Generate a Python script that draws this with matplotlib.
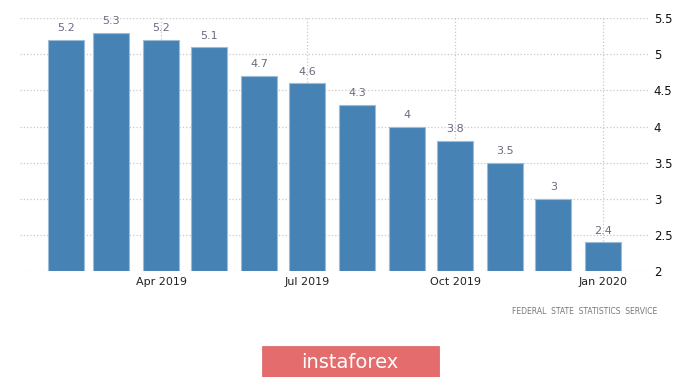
import matplotlib.pyplot as plt
import numpy as np
from matplotlib.patches import Rectangle

months = ["2019-02", "2019-03", "2019-04", "2019-05", "2019-06", "2019-07",
          "2019-08", "2019-09", "2019-10", "2019-11", "2019-12", "2020-01"]
values = [5.2, 5.3, 5.2, 5.1, 4.7, 4.6, 4.3, 4.0, 3.8, 3.5, 3.0, 2.4]
labels = ["5.2", "5.3", "5.2", "5.1", "4.7", "4.6", "4.3", "4", "3.8", "3.5", "3", "2.4"]
tick_months = ["2019-04", "2019-07", "2019-10", "2020-01"]
tick_labels = ["Apr 2019", "Jul 2019", "Oct 2019", "Jan 2020"]
y_ticks = [2, 2.5, 3, 3.5, 4, 4.5, 5, 5.5]

# position in days since first month
start = np.datetime64(months[0] + "-01")
x = [(np.datetime64(m + "-01") - start).astype(int) for m in months]
xt = [(np.datetime64(m + "-01") - start).astype(int) for m in tick_months]

fig = plt.figure(figsize=(7, 3.77), dpi=100)
ax = fig.add_axes([0.029, 0.281, 0.897, 0.671])

ax.bar(x, [v - 2 for v in values], bottom=2, width=22.4, color="#4682b4",
       edgecolor="#9dbcd8", linewidth=0.8, zorder=3)
for xi, v, t in zip(x, values, labels):
    ax.text(xi, v + 0.09, t, ha="center", va="bottom", fontsize=8,
            color="#6b6b80", zorder=4)

ax.set_xlim(-28.6, 362)
ax.set_ylim(2, 5.5)
ax.set_xticks(xt)
ax.set_xticklabels(tick_labels, fontsize=8, color="#222222")
ax.set_yticks(y_ticks)
ax.set_yticklabels([("%g" % v) for v in y_ticks], fontsize=8.5, color="#111111")
ax.yaxis.tick_right()
ax.tick_params(axis="both", length=0, pad=4)
ax.grid(True, color="#c8c8c8", linestyle=":", linewidth=0.9, zorder=0)
for s in ax.spines.values():
    s.set_visible(False)

fig.text(0.939, 0.175, "FEDERAL  STATE  STATISTICS  SERVICE", ha="right", va="center",
         fontsize=5.5, color="#777777")

fig.patches.append(Rectangle((262 / 700, 0.0), 177 / 700, 31 / 377,
                             transform=fig.transFigure, facecolor="#e46c6c",
                             edgecolor="#d96060", linewidth=0.5))
fig.text(350 / 700, 15 / 377, "instaforex", ha="center", va="center",
         fontsize=14, color="white")

fig.savefig("out.png", dpi=100)
